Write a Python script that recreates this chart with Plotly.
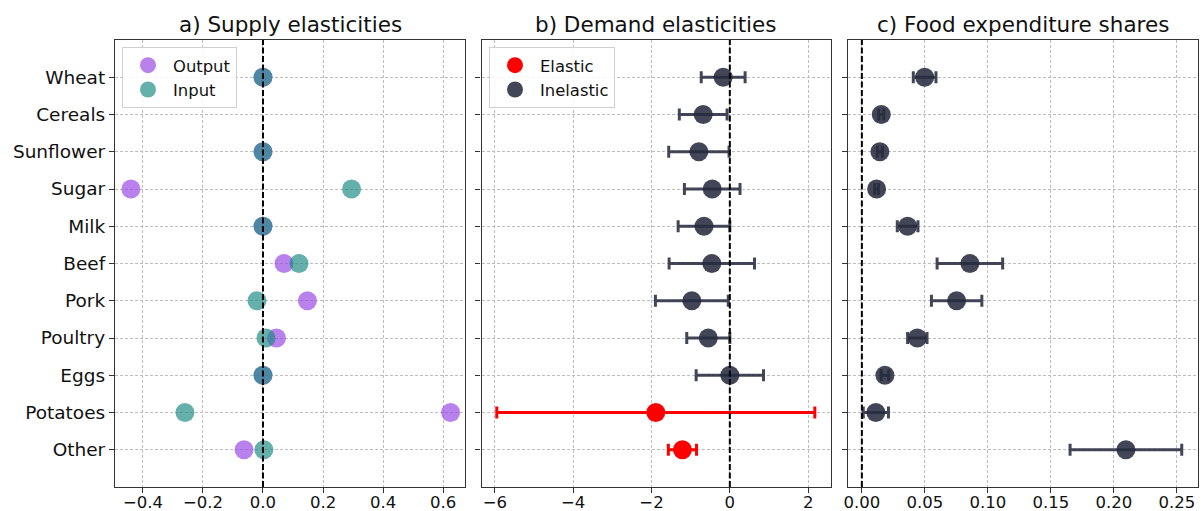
import plotly.graph_objects as go
from plotly.subplots import make_subplots

categories = ["Wheat", "Cereals", "Sunflower", "Sugar", "Milk", "Beef", "Pork",
              "Poultry", "Eggs", "Potatoes", "Other"]

supply_output = [0.0, None, 0.0, -0.44, 0.0, 0.07, 0.148, 0.045, 0.0, 0.625, -0.063]
supply_input = [0.0, None, 0.0, 0.295, 0.0, 0.12, -0.02, 0.01, 0.0, -0.26, 0.003]

demand_value = [-0.17, -0.68, -0.79, -0.45, -0.66, -0.46, -0.97, -0.55, 0.0, -1.89, -1.21]
demand_err = [0.56, 0.61, 0.77, 0.71, 0.66, 1.09, 0.93, 0.55, 0.86, 4.06, 0.36]
demand_elastic = [False, False, False, False, False, False, False, False, False, True, True]

share_value = [0.0498, 0.0154, 0.0143, 0.0117, 0.0363, 0.0857, 0.0752, 0.044, 0.0183, 0.0111, 0.2095]
share_err = [0.009, 0.002, 0.002, 0.0015, 0.0082, 0.026, 0.020, 0.0077, 0.003, 0.010, 0.0443]

titles = ["a) Supply elasticities", "b) Demand elasticities", "c) Food expenditure shares"]

PURPLE = "rgba(150,70,225,0.68)"
TEAL = "rgba(28,138,130,0.68)"
DARK = "rgba(38,43,62,0.87)"
RED = "rgba(255,0,0,1)"
FONT = "DejaVu Sans"
GRID = "#bdbdbd"

fig = make_subplots(rows=1, cols=3, horizontal_spacing=0.02)

# Panel a
fig.add_trace(go.Scatter(x=supply_output, y=categories, mode="markers", name="Output",
                         marker=dict(size=19, color=PURPLE, line=dict(width=0)),
                         legend="legend"), row=1, col=1)
fig.add_trace(go.Scatter(x=supply_input, y=categories, mode="markers", name="Input",
                         marker=dict(size=19, color=TEAL, line=dict(width=0)),
                         legend="legend"), row=1, col=1)

# Panel b
for flag, name, col in [(True, "Elastic", RED), (False, "Inelastic", DARK)]:
    xs = [v if e == flag else None for v, e in zip(demand_value, demand_elastic)]
    es = [d if e == flag else None for d, e in zip(demand_err, demand_elastic)]
    fig.add_trace(go.Scatter(x=xs, y=categories, mode="markers", name=name,
                             marker=dict(size=19, color=col, line=dict(width=0)),
                             error_x=dict(type="data", array=es, color=col, thickness=3, width=6),
                             legend="legend2"), row=1, col=2)

# Panel c
fig.add_trace(go.Scatter(x=share_value, y=categories, mode="markers", showlegend=False,
                         marker=dict(size=19, color=DARK, line=dict(width=0)),
                         error_x=dict(type="data", array=share_err, color=DARK, thickness=3, width=6)),
              row=1, col=3)

domains = [[115/1201, 465/1201], [481.5/1201, 830.5/1201], [848/1201, 1198/1201]]
xranges = [[-0.493, 0.673], [-6.34, 2.57], [-0.011, 0.2667]]
xticks = [[-0.4, -0.2, 0.0, 0.2, 0.4, 0.6], [-6, -4, -2, 0, 2],
          [0.0, 0.05, 0.10, 0.15, 0.20, 0.25]]
xtext = [["\u22120.4", "\u22120.2", "0.0", "0.2", "0.4", "0.6"],
         ["\u22126", "\u22124", "\u22122", "0", "2"],
         ["0.00", "0.05", "0.10", "0.15", "0.20", "0.25"]]
ydom = [1 - 487/511, 1 - 40/511]

for i in range(3):
    xa = "xaxis" if i == 0 else f"xaxis{i+1}"
    ya = "yaxis" if i == 0 else f"yaxis{i+1}"
    fig.layout[xa].update(domain=domains[i], range=xranges[i], tickvals=xticks[i],
                          ticktext=xtext[i], showgrid=True, gridcolor=GRID,
                          griddash="3px,2px", gridwidth=1, zeroline=False, automargin=False,
                          showline=True, linecolor="#333", linewidth=1.2, mirror=True,
                          ticks="outside", ticklen=5, tickcolor="#333", ticklabelstandoff=-5,
                          tickfont=dict(family=FONT, size=16.5, color="#111"))
    fig.layout[ya].update(domain=ydom, type="category", categoryorder="array",
                          categoryarray=categories, range=[len(categories), -1],
                          showgrid=True, gridcolor=GRID, griddash="3px,2px", gridwidth=1,
                          zeroline=False, automargin=False, showline=True, linecolor="#333",
                          linewidth=1.2, mirror=True, ticks="outside", ticklen=5,
                          tickcolor="#333", showticklabels=(i == 0),
                          tickfont=dict(family=FONT, size=18.5, color="#111"))
    fig.add_vline(x=0, line=dict(color="black", width=2, dash="6px,2.5px"), row=1, col=i+1)
    fig.add_annotation(text=titles[i], x=(domains[i][0] + domains[i][1]) / 2, y=1 - 25/511,
                       xref="paper", yref="paper", showarrow=False, xanchor="center",
                       yanchor="middle", font=dict(family=FONT, size=21.5, color="#111"))

legend_style = dict(bgcolor="rgba(255,255,255,0.85)", bordercolor="#d0d0d0", borderwidth=1,
                    font=dict(family=FONT, size=16.4, color="#111"), xanchor="left",
                    yanchor="top", itemsizing="trace", itemwidth=40, tracegroupgap=0)
fig.update_layout(
    width=1201, height=511, margin=dict(l=0, r=0, t=0, b=0),
    plot_bgcolor="white", paper_bgcolor="white",
    legend=dict(x=122/1201, y=1 - 47/511, **legend_style),
    legend2=dict(x=489/1201, y=1 - 47/511, **legend_style),
)

fig.write_html("out.html", config={"displayModeBar": False},
               post_script="document.body.style.margin='0';document.body.style.overflow='hidden';")
